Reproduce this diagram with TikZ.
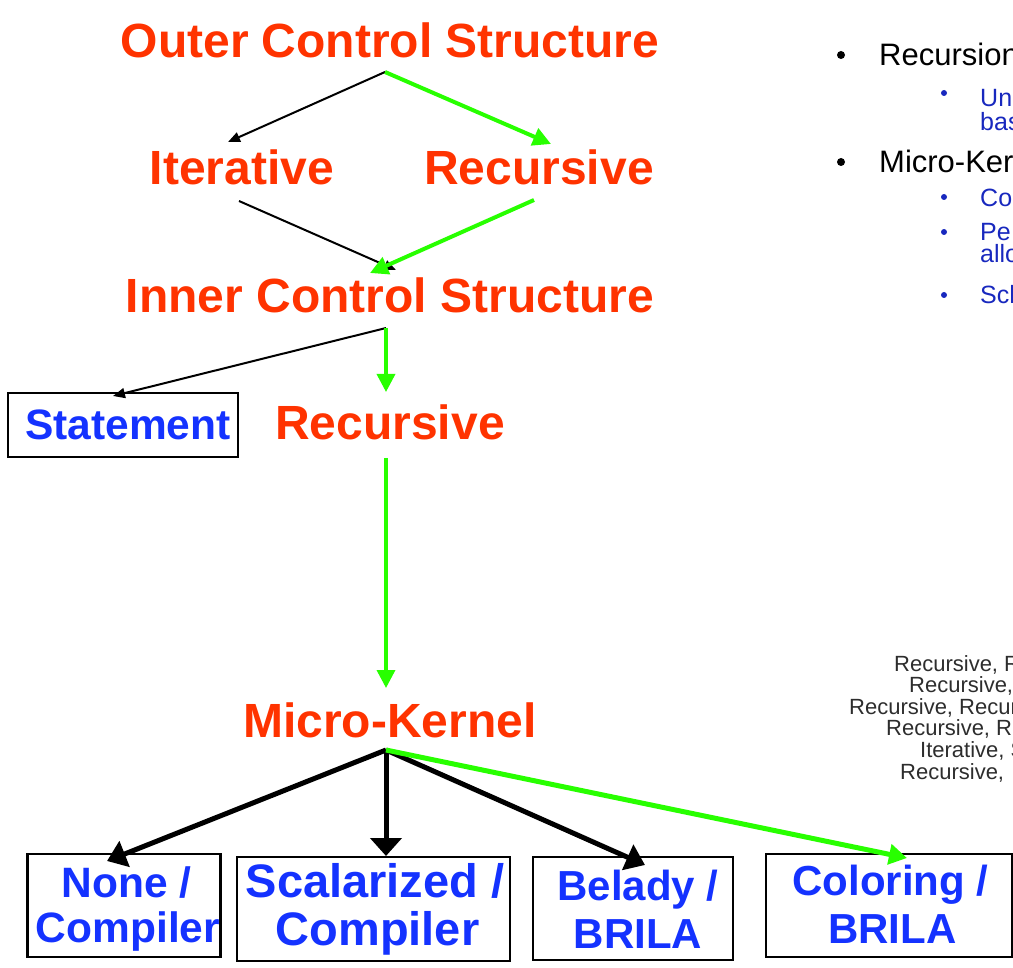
\documentclass[tikz,border=0pt]{standalone}
\usepackage{fontspec}
\setmainfont{Liberation Sans}
\usetikzlibrary{arrows.meta}
\definecolor{stageRed}{RGB}{255,51,0}
\definecolor{choiceBlue}{RGB}{20,50,255}
\definecolor{pathGreen}{RGB}{40,255,0}
\definecolor{noteBlue}{RGB}{24,40,190}
\definecolor{noteGray}{RGB}{45,45,45}
\begin{document}
\begin{tikzpicture}[x=1pt,y=-1pt,
  stage/.style={font=\fontsize{48}{50}\selectfont\bfseries, text=stageRed, inner sep=0pt, anchor=base},
  choicebox/.style={draw=black, line width=2.5pt, inner sep=0pt},
  choicetext/.style={font=\fontsize{42}{46}\selectfont\bfseries, text=choiceBlue, inner sep=0pt, anchor=base},
  thinlink/.style={draw=black, line width=2pt, -{Triangle[length=12pt,width=10pt]}},
  greenlink/.style={draw=pathGreen, line width=4pt, -{Triangle[length=18pt,width=18pt]}},
  boldlink/.style={draw=black, line width=5pt, -{Triangle[length=19pt,width=27pt]}},
  boldgreen/.style={draw=pathGreen, line width=5pt, -{Triangle[length=18pt,width=20pt]}},
  bulletMain/.style={font=\fontsize{31}{31}\selectfont, text=black, inner sep=0pt, anchor=base west},
  bulletSub/.style={font=\fontsize{25}{25}\selectfont, text=noteBlue, inner sep=0pt, anchor=base west},
  comboLine/.style={font=\fontsize{22}{22}\selectfont, text=noteGray, inner sep=0pt, anchor=base west}
]
\path[use as bounding box] (0,0) rectangle (1013,968);
\clip (0,0) rectangle (1013,968);

% ---- stages of the search tree ----
\node[stage] (outer) at (390,58) {Outer Control Structure};
\node[stage] (iter)  at (242,185) {Iterative};
\node[stage] (recA)  at (539,185) {Recursive};
\node[stage] (inner) at (390,313) {Inner Control Structure};
\node[stage] (recB)  at (390,440) {Recursive};
\node[stage] (mk)    at (390,737) {Micro-Kernel};

% ---- boxed leaves ----
\node[choicebox, minimum width=230pt, minimum height=64pt] (stmt) at (123,425) {};
\node[choicetext, font=\fontsize{42.5}{46}\selectfont\bfseries] (stmtL) at (128,440) {Statement};

\node[choicebox, minimum width=193pt, minimum height=103pt] (none) at (124,905.5) {};
\node[choicetext, font=\fontsize{42.5}{46}\selectfont\bfseries] (noneL1) at (126.5,897) {None /};
\node[choicetext, font=\fontsize{42.5}{46}\selectfont\bfseries] (noneL2) at (128,942) {Compiler};

\node[choicebox, minimum width=273pt, minimum height=104pt] (scal) at (373.5,909) {};
\node[choicetext, font=\fontsize{47}{48}\selectfont\bfseries] (scalL1) at (375,897) {Scalarized /};
\node[choicetext, font=\fontsize{47}{48}\selectfont\bfseries] (scalL2) at (377.5,945) {Compiler};

\node[choicebox, minimum width=200pt, minimum height=103pt] (belady) at (633,908.5) {};
\node[choicetext] (beladyL1) at (638,900) {Belady /};
\node[choicetext] (beladyL2) at (638,948) {BRILA};

\node[choicebox, minimum width=246pt, minimum height=103pt] (color) at (889,905.5) {};
\node[choicetext] (colorL1) at (890.5,895) {Coloring /};
\node[choicetext] (colorL2) at (892.5,943) {BRILA};

% ---- connector ends ----
\coordinate (outerFoot) at (385,72);
\coordinate (iterHead)  at (228,142);
\coordinate (recAHead)  at (551,144);
\coordinate (iterFoot)  at (239,201);
\coordinate (recAFoot)  at (534,200);
\coordinate (innerHeadK) at (396,270);
\coordinate (innerHeadG) at (370,273);
\coordinate (innerFoot) at (386,328);
\coordinate (stmtHead)  at (113,396);
\coordinate (recBHead)  at (386,392);
\coordinate (recBFoot)  at (386,458);
\coordinate (mkHead)    at (386,688);
\coordinate (mkFoot)    at (386,750);
\coordinate (noneHead)  at (107,861);
\coordinate (scalHead)  at (386,856);
\coordinate (beladyHead) at (645,865);
\coordinate (colorHead) at (907,858);

% ---- connectors ----
\draw[thinlink]  (outerFoot) -- (iterHead);
\draw[greenlink] (outerFoot) -- (recAHead);
\draw[thinlink]  (iterFoot) -- (innerHeadK);
\draw[greenlink] (recAFoot) -- (innerHeadG);
\draw[thinlink]  (innerFoot) -- (stmtHead);
\draw[greenlink, line width=3.5pt] (innerFoot) -- (recBHead);
\draw[greenlink, line width=3.5pt] (recBFoot) -- (mkHead);
\draw[boldlink]  (mkFoot) -- (noneHead);
\draw[boldlink, -{Triangle[length=18pt,width=31pt]}] (mkFoot) -- (scalHead);
\draw[boldlink]  (mkFoot) -- (beladyHead);
\draw[boldgreen] (mkFoot) -- (colorHead);

% ---- notes on the right ----
\fill[black] (841,55) circle[radius=4pt];
\node[bulletMain] (noteA) at (879,66) {Recursion};
\fill[noteBlue] (944,93) circle[radius=3pt];
\node[bulletSub] (noteA1) at (980,107) {Un};
\node[bulletSub] (noteA2) at (980,131) {bas};
\fill[black] (841,162) circle[radius=4pt];
\node[bulletMain] (noteB) at (879,173) {Micro-Kernel};
\fill[noteBlue] (944,197) circle[radius=3pt];
\node[bulletSub] (noteB1) at (980,207) {Co};
\fill[noteBlue] (944,232) circle[radius=3pt];
\node[bulletSub] (noteB2) at (980,240.5) {Pe};
\node[bulletSub] (noteB3) at (980,263) {allo};
\fill[noteBlue] (944,295) circle[radius=3pt];
\node[bulletSub] (noteB4) at (980,304) {Sch};

% ---- list of tried combinations ----
\node[comboLine] (combo1) at (894,671) {Recursive, R};
\node[comboLine] (combo2) at (909,692.6) {Recursive,};
\node[comboLine] (combo3) at (849,714.2) {Recursive, Recursive};
\node[comboLine] (combo4) at (886,735.8) {Recursive, R};
\node[comboLine] (combo5) at (920,757.4) {Iterative, S};
\node[comboLine] (combo6) at (900,779) {Recursive,};
\end{tikzpicture}
\end{document}
